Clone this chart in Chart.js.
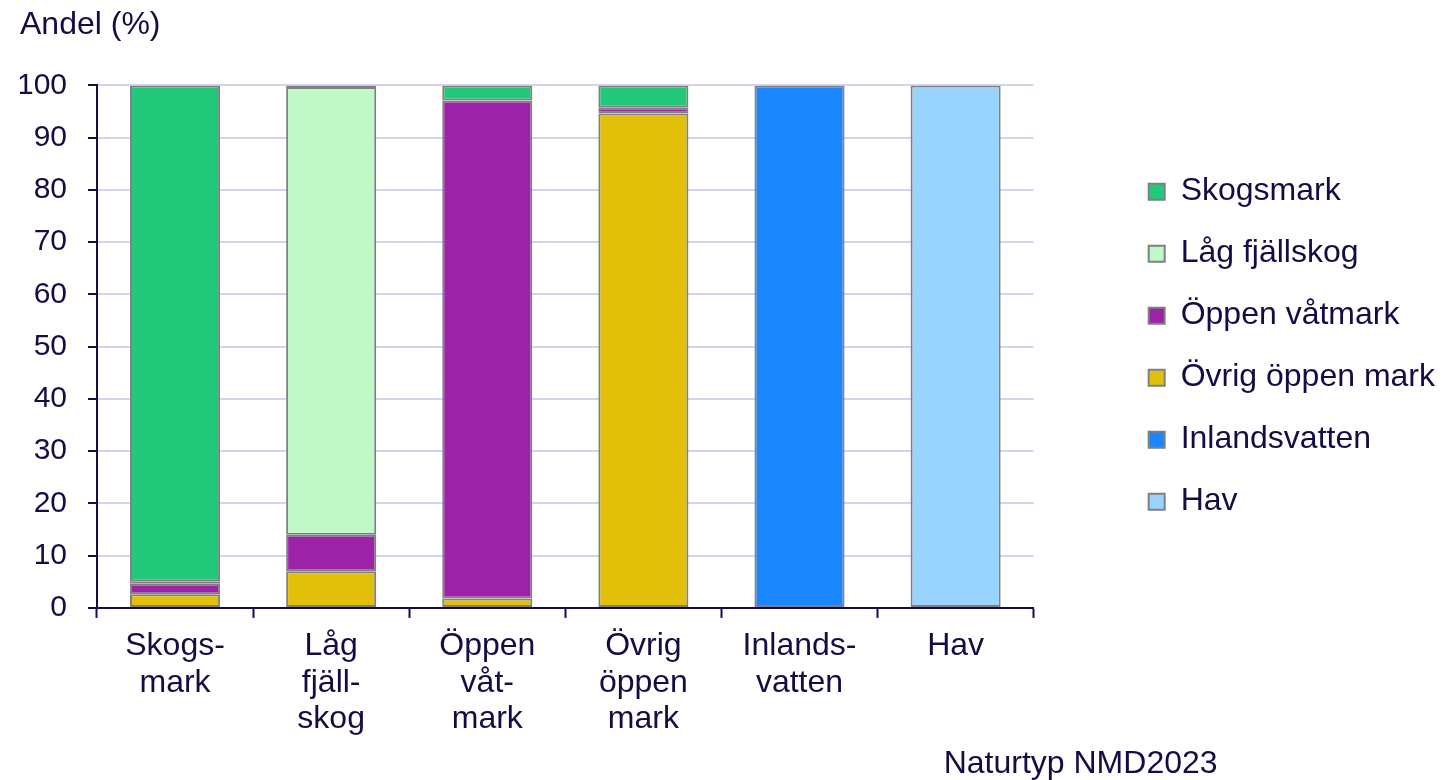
<!DOCTYPE html>
<html>
<head>
<meta charset="utf-8">
<script src="https://cdn.jsdelivr.net/npm/chart.js@4"></script>
<style>
    body { margin: 0; background: #fff; }
    #wrap { width: 1449px; height: 780px; position: relative; }
</style>
</head>
<body>
<div id="wrap"><canvas id="chart"></canvas></div>
<script>
const categories = [
    ["Skogs-", "mark"],
    ["Låg", "fjäll-", "skog"],
    ["Öppen", "våt-", "mark"],
    ["Övrig", "öppen", "mark"],
    ["Inlands-", "vatten"],
    ["Hav"]
];

// andel (%) per naturtyp, one array per series
const skogsmark      = [95.0, 0.3, 2.9, 4.3, null, null];
const lagFjallskog   = [0.4, 85.7, null, null, null, null];
const oppenVatmark   = [2.0, 7.0, 95.3, 1.1, null, null];
const ovrigOppenMark = [2.6, 7.0, 1.8, 94.6, null, null];
const inlandsvatten  = [null, null, null, null, 100, null];
const hav            = [null, null, null, null, null, 100];

const yTicks = [0, 10, 20, 30, 40, 50, 60, 70, 80, 90, 100];

const TEXT = "#120d45";
const FONT = "'Liberation Sans', Arial, sans-serif";

function series(label, data, color) {
    return {
        label: label,
        data: data,
        backgroundColor: color,
        borderColor: "#808080",
        borderWidth: 2,
        borderSkipped: false,
        barPercentage: 0.577,
        categoryPercentage: 1
    };
}

/* caption under the chart */
const captionPlugin = {
    id: "caption",
    afterDraw(chart) {
        const ctx = chart.ctx;
        ctx.save();
        ctx.fillStyle = TEXT;
        ctx.font = "32px " + FONT;
        ctx.textAlign = "left";
        ctx.textBaseline = "alphabetic";
        ctx.fillText("Naturtyp NMD2023", chart.chartArea.right - 90, chart.height - 7);
        ctx.restore();
    }
};

new Chart(document.getElementById("chart"), {
    type: "bar",
    data: {
        labels: categories,
        datasets: [
            series("Hav", hav, "#99d4ff"),
            series("Inlandsvatten", inlandsvatten, "#1a86ff"),
            series("Övrig öppen mark", ovrigOppenMark, "#e2c00a"),
            series("Öppen våtmark", oppenVatmark, "#9c22a8"),
            series("Låg fjällskog", lagFjallskog, "#c0f8c8"),
            series("Skogsmark", skogsmark, "#22c97a")
        ]
    },
    options: {
        responsive: true,
        maintainAspectRatio: false,
        animation: false,
        layout: { padding: { left: 20, right: 4, top: 0, bottom: 32 } },
        plugins: {
            tooltip: { enabled: false },
            title: {
                display: true,
                text: "Andel (%)",
                align: "start",
                color: TEXT,
                font: { family: FONT, size: 32, weight: "normal" },
                padding: { top: 6, bottom: 41 }
            },
            legend: {
                position: "right",
                fullSize: false,
                reverse: true,
                labels: {
                    color: TEXT,
                    font: { family: FONT, size: 32 },
                    boxWidth: 16,
                    boxHeight: 16,
                    padding: 30
                }
            }
        },
        scales: {
            x: {
                stacked: true,
                grid: {
                    drawOnChartArea: false,
                    drawTicks: true,
                    tickLength: 10,
                    tickColor: TEXT,
                    tickWidth: 2
                },
                border: { color: TEXT, width: 2 },
                ticks: {
                    color: TEXT,
                    font: { family: FONT, size: 32, lineHeight: 1.147 },
                    padding: 10,
                    maxRotation: 0,
                    autoSkip: false
                }
            },
            y: {
                stacked: true,
                min: 0,
                max: 100,
                afterBuildTicks(scale) {
                    scale.ticks = yTicks.map(v => ({ value: v }));
                },
                afterFit(scale) { scale.width = 77; },
                grid: {
                    color: "#d4d4f0",
                    lineWidth: 2,
                    tickLength: 9,
                    tickColor: TEXT,
                    tickWidth: 2
                },
                border: { color: TEXT, width: 2 },
                ticks: {
                    color: TEXT,
                    font: { family: FONT, size: 30 },
                    padding: 21
                }
            },
            // empty space between plot and legend
            gap: {
                type: "linear",
                position: "right",
                display: false,
                afterFit(scale) { scale.width = 85; }
            }
        }
    },
    plugins: [captionPlugin]
});
</script>
</body>
</html>
